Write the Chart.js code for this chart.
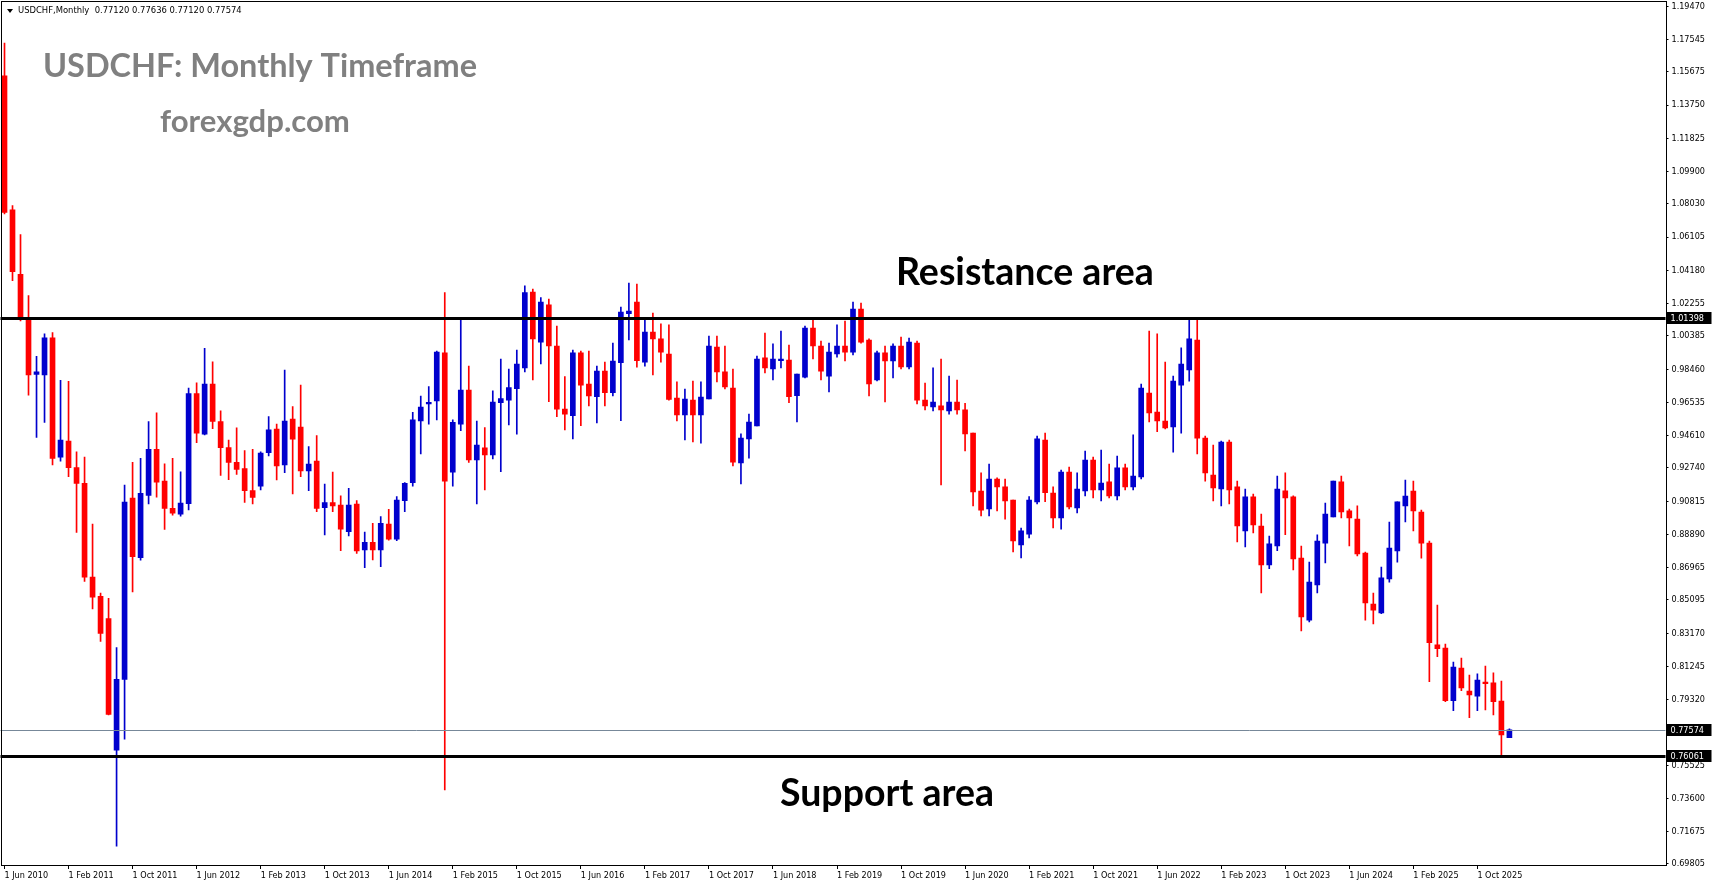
<!DOCTYPE html>
<html>
<head>
<meta charset="utf-8">
<script src="https://cdn.jsdelivr.net/npm/chart.js@4.4.1/dist/chart.umd.min.js"></script>
<style>
  html, body { margin: 0; padding: 0; background: #fff; overflow: hidden; }
  #wrap { width: 1713px; height: 888px; }
</style>
</head>
<body>
<div id="wrap"><canvas id="chart" width="1713" height="888"></canvas></div>
<script>
// monthly candles, first one is Jun 2010
const startYear = 2010;
const startMonth = 5;
const slotCount = 208; // empty months kept on the right like MT4 shift

const opens = [
  1.1544, 1.0769, 1.0395, 1.0134, 0.9815, 0.9813, 1.0027,
  0.9337, 0.9429, 0.9276, 0.9185, 0.8642, 0.8530, 0.8402, 0.7639, 0.8050, 0.9100, 0.8754, 0.9115,
  0.9382, 0.9198, 0.9040, 0.9006, 0.9067, 0.9705, 0.9469, 0.9760, 0.9543, 0.9392, 0.9306, 0.9270,
  0.9143, 0.9168, 0.9362, 0.9499, 0.9291, 0.9557, 0.9511, 0.9256, 0.9314, 0.9044, 0.9073, 0.9059,
  0.8905, 0.9065, 0.8799, 0.8843, 0.8799, 0.8949, 0.8862, 0.9084, 0.9189, 0.9546, 0.9644, 0.9662,
  0.9940, 0.9250, 0.9528, 0.9725, 0.9320, 0.9391, 0.9349, 0.9652, 0.9667, 0.9733, 0.9853, 1.0293,
  1.0003, 1.0218, 0.9980, 0.9615, 0.9577, 0.9940, 0.9760, 0.9687, 0.9835, 0.9710, 0.9884, 1.0167,
  1.0235, 0.9887, 1.0061, 1.0021, 0.9934, 0.9679, 0.9581, 0.9667, 0.9581, 0.9673, 0.9974, 0.9830,
  0.9737, 0.9303, 0.9442, 0.9517, 0.9911, 0.9847, 0.9895, 0.9899, 0.9693, 0.9800, 1.0084, 0.9980,
  0.9806, 0.9934, 0.9980, 0.9945, 1.0194, 1.0015, 0.9783, 0.9940, 0.9893, 0.9980, 0.9859, 0.9997,
  0.9667, 0.9627, 0.9633, 0.9604, 0.9656, 0.9610, 0.9476, 0.9140, 0.9036, 0.9210, 0.9164, 0.9088,
  0.8828, 0.8891, 0.9077, 0.9436, 0.9129, 0.8984, 0.9250, 0.9042, 0.9141, 0.9320, 0.9146, 0.9193,
  0.9112, 0.9274, 0.9164, 0.9222, 0.9708, 0.9598, 0.9546, 0.9511, 0.9754, 0.9841, 1.0015, 0.9447,
  0.9233, 0.9152, 0.9424, 0.9164, 0.8909, 0.9106, 0.8938, 0.8712, 0.8822, 0.9141, 0.9106, 0.8752,
  0.8393, 0.8596, 0.8839, 0.8990, 0.9193, 0.9025, 0.8978, 0.8781, 0.8486, 0.8434, 0.8631, 0.8793,
  0.9054, 0.9140, 0.9019, 0.8839, 0.8249, 0.8231, 0.7926, 0.8115, 0.7982, 0.7953, 0.8034, 0.8029,
  0.7924, 0.77120,
];
const highs = [
  1.1735, 1.0794, 1.0625, 1.0272, 0.9920, 1.0051, 1.0058,
  0.9781, 0.9775, 0.9367, 0.9337, 0.8949, 0.8549, 0.8519, 0.8234, 0.9174, 0.9306, 0.9329, 0.9543,
  0.9593, 0.9298, 0.9329, 0.9251, 0.9736, 0.9767, 0.9966, 0.9889, 0.9605, 0.9435, 0.9506, 0.9375,
  0.9382, 0.9367, 0.9571, 0.9528, 0.9841, 0.9629, 0.9754, 0.9397, 0.9461, 0.9181, 0.9250, 0.9112,
  0.9156, 0.9085, 0.8903, 0.8953, 0.8992, 0.9034, 0.9108, 0.9189, 0.9596, 0.9690, 0.9745, 0.9950,
  1.0289, 0.9553, 1.0134, 0.9864, 0.9546, 0.9507, 0.9720, 0.9905, 0.9847, 0.9957, 1.0328, 1.0310,
  1.0260, 1.0252, 1.0096, 0.9803, 0.9957, 0.9951, 0.9951, 0.9864, 0.9887, 0.9997, 1.0206, 1.0345,
  1.0339, 1.0131, 1.0171, 1.0108, 1.0102, 0.9772, 0.9731, 0.9777, 0.9772, 1.0038, 1.0038, 0.9980,
  0.9847, 0.9471, 0.9586, 0.9922, 1.0055, 0.9992, 1.0067, 0.9986, 0.9818, 1.0096, 1.0131, 1.0009,
  0.9997, 1.0102, 1.0125, 1.0235, 1.0229, 1.0021, 0.9951, 0.9980, 0.9992, 1.0032, 1.0026, 1.0009,
  0.9766, 0.9853, 0.9905, 0.9806, 0.9783, 0.9648, 0.9476, 0.9245, 0.9297, 0.9216, 0.9210, 0.9088,
  0.8926, 0.9108, 0.9459, 0.9476, 0.9164, 0.9262, 0.9279, 0.9245, 0.9372, 0.9337, 0.9378, 0.9297,
  0.9343, 0.9297, 0.9465, 0.9760, 1.0067, 1.0050, 0.9887, 0.9806, 0.9969, 1.0140, 1.0145, 0.9459,
  0.9407, 0.9430, 0.9436, 0.9198, 0.9152, 0.9123, 0.9007, 0.8880, 0.9227, 0.9245, 0.9112, 0.8822,
  0.8729, 0.8886, 0.9071, 0.9198, 0.9227, 0.9036, 0.9054, 0.8787, 0.8550, 0.8700, 0.8961, 0.9077,
  0.9204, 0.9198, 0.9030, 0.8851, 0.8480, 0.8254, 0.8150, 0.8173, 0.8075, 0.8081, 0.8127, 0.8087,
  0.8040, 0.77636,
];
const lows = [
  1.0745, 1.0358, 1.0126, 0.9696, 0.9451, 0.9537, 0.9292,
  0.9313, 0.9224, 0.8901, 0.8617, 0.8457, 0.8270, 0.7843, 0.7084, 0.7703, 0.8556, 0.8740, 0.9066,
  0.9105, 0.8918, 0.9000, 0.8994, 0.9031, 0.9420, 0.9465, 0.9501, 0.9231, 0.9206, 0.9237, 0.9075,
  0.9066, 0.9147, 0.9343, 0.9204, 0.9247, 0.9123, 0.9223, 0.9142, 0.9021, 0.8886, 0.9021, 0.8795,
  0.8880, 0.8779, 0.8696, 0.8741, 0.8702, 0.8856, 0.8853, 0.9021, 0.9169, 0.9355, 0.9528, 0.9552,
  0.7410, 0.9169, 0.9490, 0.9306, 0.9065, 0.9146, 0.9326, 0.9252, 0.9523, 0.9470, 0.9830, 0.9783,
  0.9876, 0.9658, 0.9571, 0.9494, 0.9442, 0.9519, 0.9633, 0.9534, 0.9633, 0.9691, 0.9548, 1.0015,
  0.9858, 0.9864, 0.9812, 0.9887, 0.9667, 0.9546, 0.9436, 0.9424, 0.9418, 0.9673, 0.9772, 0.9731,
  0.9285, 0.9181, 0.9331, 0.9517, 0.9824, 0.9783, 0.9853, 0.9652, 0.9540, 0.9795, 0.9905, 0.9783,
  0.9714, 0.9916, 0.9893, 0.9928, 0.9997, 0.9691, 0.9778, 0.9656, 0.9795, 0.9847, 0.9847, 0.9644,
  0.9610, 0.9604, 0.9175, 0.9586, 0.9586, 0.9372, 0.9054, 0.8996, 0.8996, 0.9025, 0.8978, 0.8788,
  0.8753, 0.8868, 0.9065, 0.9079, 0.8926, 0.8920, 0.9036, 0.9013, 0.9112, 0.9100, 0.9083, 0.9100,
  0.9089, 0.9146, 0.9146, 0.9210, 0.9540, 0.9484, 0.9500, 0.9366, 0.9476, 0.9777, 0.9355, 0.9198,
  0.9083, 0.9054, 0.9065, 0.8845, 0.8816, 0.8897, 0.8550, 0.8691, 0.8795, 0.8888, 0.8683, 0.8330,
  0.8382, 0.8550, 0.8724, 0.8990, 0.8984, 0.8822, 0.8764, 0.8393, 0.8370, 0.8430, 0.8613, 0.8729,
  0.8961, 0.8909, 0.8752, 0.8036, 0.8181, 0.7920, 0.7868, 0.7984, 0.7828, 0.7868, 0.7872, 0.7843,
  0.7606, 0.77120,
];
const closes = [
  1.0753, 1.0410, 1.0134, 0.9813, 0.9830, 1.0027, 0.9329,
  0.9435, 0.9276, 0.9185, 0.8642, 0.8525, 0.8316, 0.7846, 0.8050, 0.9076, 0.8760, 0.9127, 0.9382,
  0.9192, 0.9040, 0.9012, 0.9071, 0.9705, 0.9475, 0.9760, 0.9543, 0.9392, 0.9306, 0.9266, 0.9143,
  0.9103, 0.9360, 0.9494, 0.9285, 0.9546, 0.9441, 0.9256, 0.9297, 0.9040, 0.9073, 0.9054, 0.8920,
  0.9059, 0.8793, 0.8843, 0.8799, 0.8953, 0.8862, 0.9088, 0.9185, 0.9552, 0.9627, 0.9654, 0.9945,
  0.9198, 0.9538, 0.9725, 0.9320, 0.9407, 0.9349, 0.9656, 0.9675, 0.9739, 0.9876, 1.0289, 1.0021,
  1.0235, 0.9980, 0.9615, 0.9586, 0.9940, 0.9754, 0.9691, 0.9835, 0.9710, 0.9893, 1.0177, 1.0183,
  0.9895, 1.0061, 1.0021, 0.9945, 0.9671, 0.9581, 0.9673, 0.9581, 0.9685, 0.9980, 0.9830, 0.9743,
  0.9308, 0.9447, 0.9540, 0.9905, 0.9853, 0.9905, 0.9905, 0.9687, 0.9818, 1.0084, 0.9980, 0.9835,
  0.9945, 0.9980, 0.9945, 1.0194, 1.0003, 0.9760, 0.9940, 0.9893, 0.9980, 0.9859, 1.0003, 0.9667,
  0.9633, 0.9656, 0.9610, 0.9656, 0.9610, 0.9471, 0.9135, 0.9030, 0.9210, 0.9164, 0.9083, 0.8852,
  0.8910, 0.9088, 0.9442, 0.9131, 0.8984, 0.9250, 0.9048, 0.9152, 0.9320, 0.9146, 0.9187, 0.9112,
  0.9274, 0.9164, 0.9227, 0.9737, 0.9592, 0.9546, 0.9505, 0.9777, 0.9876, 1.0021, 0.9447, 0.9245,
  0.9158, 0.9424, 0.9146, 0.8938, 0.9106, 0.8944, 0.8712, 0.8834, 0.9152, 0.9100, 0.8747, 0.8411,
  0.8613, 0.8851, 0.9007, 0.9198, 0.9019, 0.8984, 0.8776, 0.8492, 0.8451, 0.8637, 0.8810, 0.9077,
  0.9111, 0.9025, 0.8839, 0.8262, 0.8227, 0.7926, 0.8121, 0.8000, 0.7959, 0.8046, 0.8025, 0.7921,
  0.7728, 0.77574,
];

const yTickValues = [
  1.19470, 1.17545, 1.15675, 1.13750, 1.11825, 1.09900, 1.08030, 1.06105, 1.04180,
  1.02255, 1.00385, 0.98460, 0.96535, 0.94610, 0.92740, 0.90815, 0.88890, 0.86965,
  0.85095, 0.83170, 0.81245, 0.79320, 0.75525, 0.73600, 0.71675, 0.69805,
];
const resistanceLevel = 1.01398;
const supportLevel = 0.76061;
const lastPrice = 0.77574;
const headerText = "USDCHF,Monthly  0.77120 0.77636 0.77120 0.77574";

const monthNames = ["Jan", "Feb", "Mar", "Apr", "May", "Jun", "Jul", "Aug", "Sep", "Oct", "Nov", "Dec"];
const months = [];
for (let k = 0; k < slotCount; k++) {
  const m = startMonth + k;
  months.push("1 " + monthNames[m % 12] + " " + (startYear + Math.floor(m / 12)));
}

const bull = "#0000cd";
const bear = "#ff0000";
const axisFont = "'DejaVu Sans Condensed', 'DejaVu Sans', sans-serif";
const noteFont = "Lato, 'Open Sans', sans-serif";

function candleColor(ctx) {
  const i = ctx.dataIndex;
  return closes[i] >= opens[i] ? bull : bear;
}

function hLine(ctx, area, y, width, color) {
  const yy = width % 2 ? Math.round(y) + 0.5 : Math.round(y);
  ctx.beginPath();
  ctx.lineWidth = width;
  ctx.strokeStyle = color;
  ctx.moveTo(area.left, yy);
  ctx.lineTo(area.right, yy);
  ctx.stroke();
}

// scale the font so the text fills the given width
function fitText(ctx, text, x, baseline, width, weight, family, color) {
  ctx.font = weight + " 40px " + family;
  const size = 40 * width / ctx.measureText(text).width;
  ctx.font = weight + " " + size.toFixed(2) + "px " + family;
  ctx.fillStyle = color;
  ctx.textAlign = "left";
  ctx.textBaseline = "alphabetic";
  ctx.fillText(text, x, baseline);
}

function fitTextMiddle(ctx, text, x, y, width) {
  ctx.font = "10px " + axisFont;
  const size = 10 * width / ctx.measureText(text).width;
  ctx.font = size.toFixed(2) + "px " + axisFont;
  ctx.fillStyle = "#000";
  ctx.textAlign = "left";
  ctx.textBaseline = "middle";
  ctx.fillText(text, x, y);
}

function priceTag(ctx, chart, value) {
  const y = Math.round(chart.scales.y.getPixelForValue(value));
  const x = chart.chartArea.right + 1;
  ctx.fillStyle = "#000";
  ctx.fillRect(x, y - 6, 45, 12);
  ctx.fillStyle = "#fff";
  ctx.font = "9px " + axisFont;
  ctx.textAlign = "left";
  ctx.textBaseline = "middle";
  ctx.fillText(value.toFixed(5), x + 4, y + 0.5);
}

const mtOverlay = {
  id: "mtOverlay",
  afterDatasetsDraw(chart) {
    const { ctx, chartArea } = chart;
    const y = chart.scales.y;
    ctx.save();
    hLine(ctx, chartArea, y.getPixelForValue(lastPrice), 1, "#778899");
    hLine(ctx, chartArea, y.getPixelForValue(resistanceLevel), 3, "#000");
    hLine(ctx, chartArea, y.getPixelForValue(supportLevel), 3, "#000");
    ctx.restore();
  },
  afterDraw(chart) {
    const { ctx, chartArea: a } = chart;
    ctx.save();
    ctx.strokeStyle = "#000";
    ctx.lineWidth = 1;
    ctx.strokeRect(Math.floor(a.left) + 1.5, Math.floor(a.top) + 0.5,
      Math.round(a.right) - Math.floor(a.left) - 1, Math.round(a.bottom) - Math.floor(a.top));

    priceTag(ctx, chart, resistanceLevel);
    priceTag(ctx, chart, lastPrice);
    priceTag(ctx, chart, supportLevel);

    // header line of the MT4 window
    ctx.fillStyle = "#000";
    ctx.beginPath();
    ctx.moveTo(7, 9);
    ctx.lineTo(13, 9);
    ctx.lineTo(10, 13);
    ctx.closePath();
    ctx.fill();
    fitTextMiddle(ctx, headerText, 18, 11, 224);

    fitText(ctx, "USDCHF: Monthly Timeframe", 43, 77, 434, "bold", noteFont, "#808080");
    fitText(ctx, "forexgdp.com", 160, 132, 190, "bold", noteFont, "#808080");
    fitText(ctx, "Resistance area", 896, 285, 258, "bold", noteFont, "#000");
    fitText(ctx, "Support area", 780, 806, 214, "bold", noteFont, "#000");
    ctx.restore();
  },
};

new Chart(document.getElementById("chart"), {
  type: "bar",
  data: {
    labels: months,
    datasets: [
      {
        label: "wick",
        data: lows.map((l, i) => [l, highs[i]]),
        backgroundColor: candleColor,
        barThickness: 1,
        grouped: false,
        borderWidth: 0,
      },
      {
        label: "body",
        data: opens.map((o, i) => [o, closes[i]]),
        backgroundColor: candleColor,
        barThickness: 5,
        minBarLength: 1,
        grouped: false,
        borderWidth: 0,
      },
    ],
  },
  options: {
    responsive: false,
    animation: false,
    events: [],
    layout: { padding: { left: 0.5, top: 1, right: 0, bottom: 0 }, autoPadding: false },
    plugins: { legend: { display: false }, tooltip: { enabled: false } },
    scales: {
      x: {
        type: "category",
        offset: true,
        grid: { display: true, offset: false, drawOnChartArea: false, drawTicks: true, tickLength: 4, color: "#000" },
        border: { display: false },
        ticks: {
          autoSkip: false,
          maxRotation: 0,
          minRotation: 0,
          align: "start",
          padding: 1,
          color: "#000",
          font: { family: axisFont, size: 9 },
        },
        afterBuildTicks: (axis) => {
          axis.ticks = axis.ticks.filter((t) => t.value % 8 === 0 && t.value < opens.length);
        },
        afterFit: (axis) => {
          axis.height = 23;
          axis.paddingLeft = 0;
          axis.paddingRight = 0;
        },
      },
      y: {
        type: "linear",
        position: "right",
        min: 0.69746,
        max: 1.1978,
        grid: { display: true, drawOnChartArea: false, drawTicks: true, tickLength: 3, color: "#000" },
        border: { display: false },
        ticks: {
          padding: 3,
          color: "#000",
          font: { family: axisFont, size: 9 },
          callback: (v) => Number(v).toFixed(5),
        },
        afterBuildTicks: (axis) => {
          axis.ticks = yTickValues.map((v) => ({ value: v }));
        },
        afterFit: (axis) => {
          axis.width = 47.5;
          axis.paddingTop = 0;
          axis.paddingBottom = 0;
        },
      },
    },
  },
  plugins: [mtOverlay],
});
</script>
</body>
</html>
